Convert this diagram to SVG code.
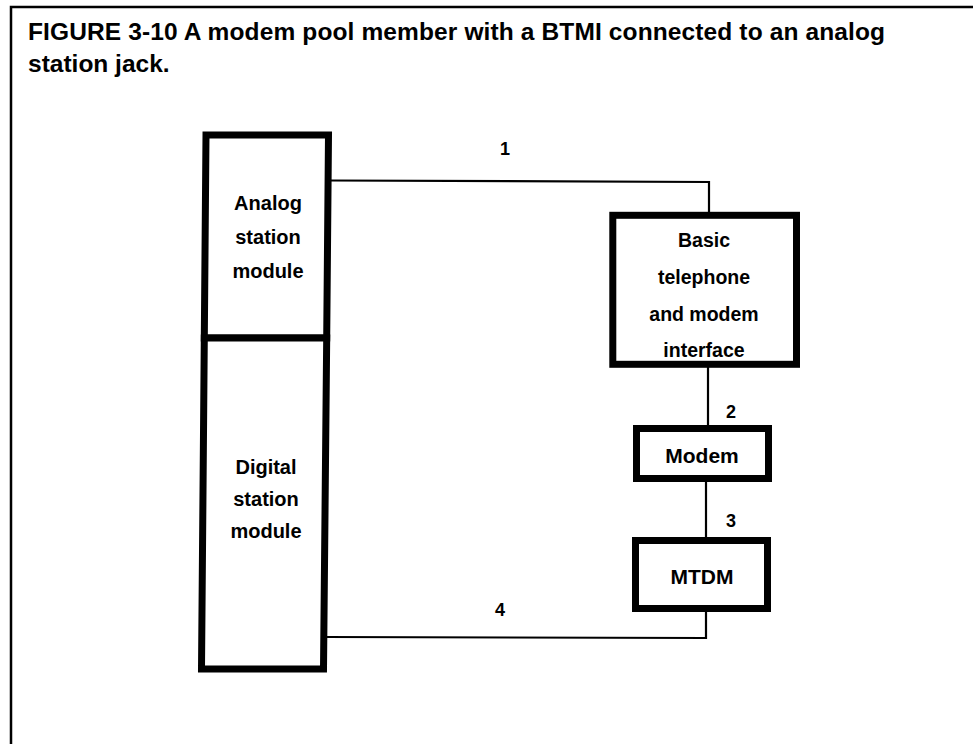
<svg xmlns="http://www.w3.org/2000/svg" width="973" height="744" viewBox="0 0 973 744">
<style>
.frame{fill:none;stroke:#000;stroke-width:2.5}
.box{fill:#fff;stroke:#000;stroke-width:7;stroke-linejoin:miter}
.wire{fill:none;stroke:#000;stroke-width:2.2}
.t{font-family:"Liberation Sans",Arial,sans-serif;font-weight:bold;fill:#000;text-anchor:middle}
.lbl{font-size:20px}
.btmi{font-size:19.5px}
.big{font-size:21px}
.num{font-size:18px}
.title{font-family:"Liberation Sans",Arial,sans-serif;font-weight:bold;font-size:24.5px;fill:#000}
</style>
<rect width="973" height="744" fill="#fff"/>
<path class="frame" d="M11,744 L11,7 L973,7"/>
<text class="title" x="28" y="40" textLength="857" lengthAdjust="spacing">FIGURE 3-10 A modem pool member with a BTMI connected to  an analog</text>
<text class="title" x="28" y="72">station jack.</text>
<g id="connectors">
<path class="wire" d="M330,180.5 L709,182 L709,213"/>
<path class="wire" d="M708,367 L708,426"/>
<path class="wire" d="M706,481 L706,538"/>
<path class="wire" d="M706,611 L706,638 L325,637"/>
<text class="t num" x="505" y="155">1</text>
<text class="t num" x="731" y="418">2</text>
<text class="t num" x="731" y="527">3</text>
<text class="t num" x="500" y="616">4</text>
</g>
<g id="analog-station-module">
<polygon class="box" points="206,135 328.5,135 326.7,338 204.3,338"/>
<text class="t lbl" x="268" y="210">Analog</text>
<text class="t lbl" x="268" y="244">station</text>
<text class="t lbl" x="268" y="278">module</text>
</g>
<g id="digital-station-module">
<polygon class="box" points="204.3,338 326.7,338 323.5,669 201.5,669"/>
<text class="t lbl" x="266" y="474">Digital</text>
<text class="t lbl" x="266" y="506">station</text>
<text class="t lbl" x="266" y="538">module</text>
</g>
<g id="btmi">
<rect class="box" x="612.8" y="215.3" width="183.7" height="149"/>
<text class="t btmi" x="704" y="247">Basic</text>
<text class="t btmi" x="704" y="284">telephone</text>
<text class="t btmi" x="704" y="321">and modem</text>
<text class="t btmi" x="704" y="357">interface</text>
</g>
<g id="modem">
<rect class="box" x="636.5" y="428.5" width="132" height="50"/>
<text class="t big" x="702" y="463">Modem</text>
</g>
<g id="mtdm">
<rect class="box" x="635.5" y="540.5" width="132" height="68"/>
<text class="t big" x="702" y="584">MTDM</text>
</g>
</svg>
